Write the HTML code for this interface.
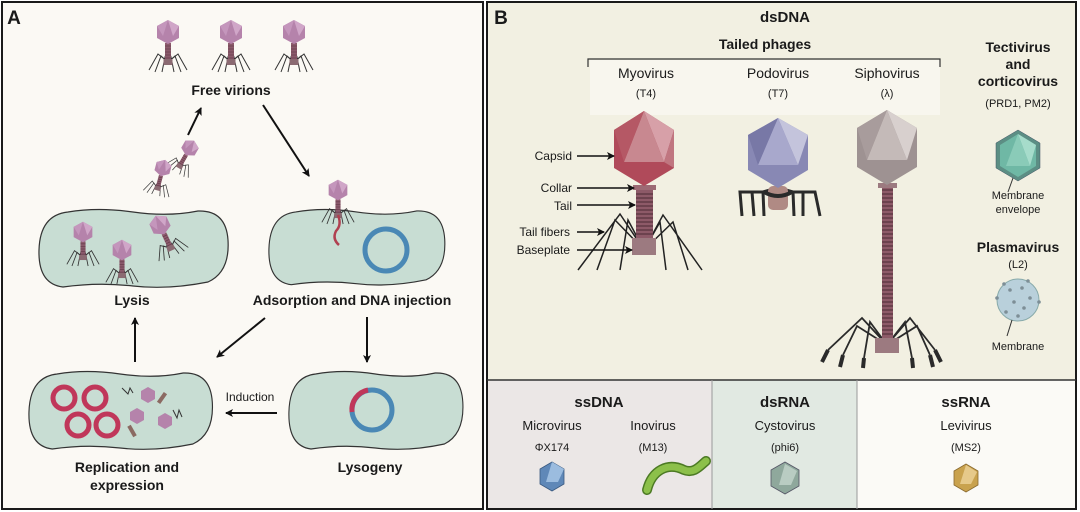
<!DOCTYPE html>
<html><head><meta charset="utf-8"><style>
html,body{margin:0;padding:0;background:#fff}
svg{display:block}
text{font-family:"Liberation Sans",sans-serif;fill:#1a1a1a;text-anchor:middle}
.b{font-weight:bold}
</style></head><body>
<svg width="1080" height="512" viewBox="0 0 1080 512" xmlns="http://www.w3.org/2000/svg">
<defs>
<marker id="ah" markerWidth="8" markerHeight="8" refX="7" refY="4" orient="auto" markerUnits="userSpaceOnUse"><path d="M0,0 L8,4 L0,8 L2,4 z" fill="#111"/></marker>
<g id="ph">
  <g stroke="#333" stroke-width="1" fill="none">
    <path d="M0,30 L-10,22 L-19,38 M0,30 L-7,24 L-13,40 M0,30 L-3,25 L-6,40 M0,30 L10,22 L19,38 M0,30 L7,24 L13,40 M0,30 L3,25 L6,40"/>
  </g>
  <rect x="-3" y="11" width="6" height="18" fill="#8b5a6b"/>
  <path d="M-3,14h6M-3,17h6M-3,20h6M-3,23h6M-3,26h6" stroke="#5a3040" stroke-width=".6"/>
  <rect x="-4.5" y="27" width="9" height="6" fill="#8b6a72"/>
  <polygon points="0,-12 11,-6 11,6 0,12 -11,6 -11,-6" fill="#b583ab"/>
  <polygon points="0,-12 11,-6 5,4" fill="#d0a6c8"/>
  <polygon points="0,-12 -11,-6 -5,4" fill="#c496bc"/>
</g>
<g id="cell">
  <path d="M30,2 Q60,-3 95,2 T160,1 Q188,0 190,30 Q192,62 170,72 Q130,80 95,76 T25,77 Q0,74 1,40 Q2,5 30,2 z" fill="#c8ddd3" stroke="#333" stroke-width="1.2"/>
</g>
</defs>

<!-- Panel A -->
<rect x="2" y="2" width="481" height="507" fill="#fbf9f4" stroke="#1a1a1a" stroke-width="2"/>
<text x="14" y="24" class="b" style="font-size:19px">A</text>
<use href="#ph" transform="translate(168,32)"/>
<use href="#ph" transform="translate(231,32)"/>
<use href="#ph" transform="translate(294,32)"/>
<text x="231" y="95" class="b" style="font-size:14px">Free virions</text>
<line x1="188" y1="135" x2="201" y2="108" stroke="#111" stroke-width="2" marker-end="url(#ah)"/>
<line x1="263" y1="105" x2="309" y2="176" stroke="#111" stroke-width="2" marker-end="url(#ah)"/>
<use href="#ph" transform="translate(190,148) rotate(30) scale(.7)"/>
<use href="#ph" transform="translate(163,168) rotate(15) scale(.7)"/>

<use href="#cell" transform="translate(38,210)"/>
<use href="#ph" transform="translate(83,232) scale(.85)"/>
<use href="#ph" transform="translate(122,250) scale(.85)"/>
<use href="#ph" transform="translate(160,225) rotate(-25) scale(.85)"/>
<text x="132" y="305" class="b" style="font-size:14px">Lysis</text>

<use href="#cell" transform="translate(268,210) scale(.93,.97)"/>
<use href="#ph" transform="translate(338,190) scale(.85)"/>
<path d="M338,215 q4,10 -2,16 q-4,8 3,14" stroke="#b04050" stroke-width="2.5" fill="none"/>
<circle cx="386" cy="250" r="21" fill="none" stroke="#4a88b5" stroke-width="5"/>
<text x="352" y="305" class="b" style="font-size:14px">Adsorption and DNA injection</text>

<line x1="265" y1="318" x2="217" y2="357" stroke="#111" stroke-width="2" marker-end="url(#ah)"/>
<line x1="367" y1="317" x2="367" y2="362" stroke="#111" stroke-width="2" marker-end="url(#ah)"/>
<line x1="135" y1="362" x2="135" y2="318" stroke="#111" stroke-width="2" marker-end="url(#ah)"/>
<line x1="277" y1="413" x2="226" y2="413" stroke="#111" stroke-width="2" marker-end="url(#ah)"/>
<text x="250" y="401" style="font-size:12px">Induction</text>

<use href="#cell" transform="translate(28,372) scale(.97,1)"/>
<g fill="none" stroke="#c0375a" stroke-width="5">
<circle cx="64" cy="398" r="11"/><circle cx="95" cy="398" r="11"/>
<circle cx="78" cy="425" r="11"/><circle cx="107" cy="425" r="11"/>
</g>
<g fill="#b583ab"><polygon points="148,387 155,391 155,399 148,403 141,399 141,391"/><polygon points="137,408 144,412 144,420 137,424 130,420 130,412"/><polygon points="165,413 172,417 172,425 165,429 158,425 158,417"/></g>
<g fill="#8b6a62"><rect x="160" y="392" width="4" height="12" transform="rotate(35 162 398)"/><rect x="130" y="425" width="4" height="12" transform="rotate(-30 132 431)"/></g>
<path d="M122,388 l6,6 l2,-6 l3,5 M173,410 l4,8 l2,-8 l3,7" stroke="#333" fill="none"/>
<text x="127" y="472" class="b" style="font-size:14px">Replication and</text>
<text x="127" y="490" class="b" style="font-size:14px">expression</text>

<use href="#cell" transform="translate(288,372) scale(.92,1)"/>
<circle cx="372" cy="410" r="20" fill="none" stroke="#4a88b5" stroke-width="5"/>
<path d="M352,412 A20,20 0 0 1 368,390" fill="none" stroke="#c0375a" stroke-width="5"/>
<text x="370" y="472" class="b" style="font-size:14px">Lysogeny</text>

<!-- Panel B -->
<rect x="487" y="2" width="589" height="507" fill="#f2f0e2" stroke="#1a1a1a" stroke-width="2"/>
<rect x="590" y="60" width="350" height="55" fill="#f8f6ee"/>
<rect x="488" y="380" width="224" height="128" fill="#ebe7e6"/>
<rect x="712" y="380" width="145" height="128" fill="#e1e9e2"/>
<rect x="857" y="380" width="218" height="128" fill="#fbfaf6"/>
<line x1="487" y1="380" x2="1076" y2="380" stroke="#333" stroke-width="1.5"/>
<line x1="712" y1="380" x2="712" y2="509" stroke="#999" stroke-width="1"/>
<line x1="857" y1="380" x2="857" y2="509" stroke="#999" stroke-width="1"/>

<text x="501" y="24" class="b" style="font-size:19px">B</text>
<text x="785" y="22" class="b" style="font-size:15px">dsDNA</text>
<text x="765" y="49" class="b" style="font-size:14px">Tailed phages</text>
<path d="M588,67 V59 H940 V67" fill="none" stroke="#333" stroke-width="1.2"/>
<text x="646" y="78" style="font-size:14px">Myovirus</text>
<text x="646" y="97" style="font-size:11px">(T4)</text>
<text x="778" y="78" style="font-size:14px">Podovirus</text>
<text x="778" y="97" style="font-size:11px">(T7)</text>
<text x="887" y="78" style="font-size:14px">Siphovirus</text>
<text x="887" y="97" style="font-size:11px">(λ)</text>

<!-- T4 -->
<g stroke="#222" stroke-width="1.5" fill="none">
<path d="M644,250 L620,214 L578,270 M644,250 L615,220 L597,270 M644,250 L628,220 L620,270 M644,250 L663,215 L702,270 M644,250 L673,222 L688,270 M644,250 L660,222 L666,270"/>
</g>
<rect x="636" y="190" width="17" height="50" fill="#8d5a68"/>
<path d="M636,194h17M636,198h17M636,202h17M636,206h17M636,210h17M636,214h17M636,218h17M636,222h17M636,226h17M636,230h17M636,234h17" stroke="#4a2a35" stroke-width="1"/>
<rect x="633" y="185" width="23" height="5" fill="#9c6a74"/>
<rect x="632" y="238" width="24" height="17" fill="#9c7a80"/>
<polygon points="644,111 674,130 674,168 644,186 614,168 614,130" fill="#b04a5a"/>
<polygon points="644,111 674,130 664,162" fill="#d7a0a8"/>
<polygon points="644,111 664,162 624,162" fill="#c88890"/>
<polygon points="644,111 614,130 624,162" fill="#b55865"/>
<polygon points="674,130 674,168 664,162" fill="#c07680"/>
<text x="572" y="160" style="text-anchor:end;font-size:12px">Capsid</text>
<text x="572" y="192" style="text-anchor:end;font-size:12px">Collar</text>
<text x="572" y="210" style="text-anchor:end;font-size:12px">Tail</text>
<text x="570" y="236" style="text-anchor:end;font-size:12px">Tail fibers</text>
<text x="570" y="254" style="text-anchor:end;font-size:12px">Baseplate</text>
<g stroke="#111" stroke-width="1.5" marker-end="url(#ah)">
<line x1="577" y1="156" x2="614" y2="156"/>
<line x1="577" y1="188" x2="634" y2="188"/>
<line x1="577" y1="205" x2="635" y2="205"/>
<line x1="577" y1="232" x2="604" y2="232"/>
<line x1="577" y1="250" x2="632" y2="250"/>
</g>

<!-- T7 -->
<g stroke="#2a2a2a" stroke-width="3" fill="none">
<path d="M770,190 L763,192 L740,192 L742,216 M752,192 L754,216 M763,192 L764,216 M786,190 L793,192 L815,192 L820,216 M803,192 L803,216 M793,192 L794,216"/>
</g>
<rect x="768" y="186" width="20" height="24" rx="5" fill="#b08a84"/>
<path d="M764,192 q14,8 28,0" stroke="#2a2a2a" stroke-width="4" fill="none"/>
<polygon points="778,118 808,135 808,170 778,188 748,170 748,135" fill="#8888b4"/>
<polygon points="778,118 808,135 798,165" fill="#c4c4dc"/>
<polygon points="778,118 798,165 758,165" fill="#a8a8cc"/>
<polygon points="778,118 748,135 758,165" fill="#7878a6"/>

<!-- Lambda -->
<g stroke="#2a2a2a" stroke-width="1.8" fill="none">
<path d="M887,345 L862,318 L828,350 M887,345 L857,326 L843,355 M887,345 L870,322 L864,358 M887,345 L910,318 L935,350 M887,345 L917,326 L930,355 M887,345 L905,322 L912,358"/>
</g>
<g stroke="#2a2a2a" stroke-width="4"><path d="M828,350 l-6,12 M843,355 l-3,12 M864,358 l-1,10 M935,350 l6,12 M930,355 l3,12 M912,358 l1,10"/></g>
<rect x="882" y="186" width="11" height="155" fill="#8d5a68"/>
<path d="M882,190h11M882,194h11M882,198h11M882,202h11M882,206h11M882,210h11M882,214h11M882,218h11M882,222h11M882,226h11M882,230h11M882,234h11M882,238h11M882,242h11M882,246h11M882,250h11M882,254h11M882,258h11M882,262h11M882,266h11M882,270h11M882,274h11M882,278h11M882,282h11M882,286h11M882,290h11M882,294h11M882,298h11M882,302h11M882,306h11M882,310h11M882,314h11M882,318h11M882,322h11M882,326h11M882,330h11M882,334h11" stroke="#4a2a35" stroke-width="1"/>
<rect x="878" y="183" width="19" height="5" fill="#9c7a80"/>
<rect x="875" y="338" width="24" height="15" fill="#9c7a80"/>
<polygon points="887,110 917,128 917,167 887,185 857,167 857,128" fill="#9e9292"/>
<polygon points="887,110 917,128 907,160" fill="#d8d0ce"/>
<polygon points="887,110 907,160 867,160" fill="#c4bab8"/>
<polygon points="887,110 857,128 867,160" fill="#a89c9c"/>

<!-- Tectivirus -->
<text x="1018" y="52" class="b" style="font-size:14px">Tectivirus</text>
<text x="1018" y="69" class="b" style="font-size:14px">and</text>
<text x="1018" y="86" class="b" style="font-size:14px">corticovirus</text>
<text x="1018" y="107" style="font-size:11px">(PRD1, PM2)</text>
<polygon points="1018,130 1040,143 1040,168 1018,181 996,168 996,143" fill="#5c8e84" stroke="#456" stroke-width=".5"/>
<polygon points="1018,134 1036,145 1036,166 1018,177 1000,166 1000,145" fill="#6fb8a5"/>
<polygon points="1018,134 1036,145 1030,166" fill="#a6dccb"/>
<polygon points="1018,134 1030,166 1006,166" fill="#8acbb8"/>
<line x1="1013" y1="178" x2="1008" y2="192" stroke="#333"/>
<text x="1018" y="199" style="font-size:11px">Membrane</text>
<text x="1018" y="213" style="font-size:11px">envelope</text>

<text x="1018" y="252" class="b" style="font-size:14px">Plasmavirus</text>
<text x="1018" y="268" style="font-size:11px">(L2)</text>
<circle cx="1018" cy="300" r="21" fill="#b9d0db" stroke="#8aa" stroke-width="1"/>
<g fill="#7d8e96"><circle cx="1010" cy="290" r="1.8"/><circle cx="1022" cy="288" r="1.8"/><circle cx="1030" cy="298" r="1.8"/><circle cx="1014" cy="302" r="1.8"/><circle cx="1024" cy="308" r="1.8"/><circle cx="1006" cy="312" r="1.8"/><circle cx="1018" cy="316" r="1.8"/><circle cx="997" cy="298" r="1.8"/><circle cx="1039" cy="302" r="1.8"/><circle cx="1028" cy="281" r="1.8"/><circle cx="1004" cy="284" r="1.8"/></g>
<line x1="1012" y1="320" x2="1007" y2="336" stroke="#333"/>
<text x="1018" y="350" style="font-size:11px">Membrane</text>

<!-- Bottom -->
<text x="599" y="407" class="b" style="font-size:15px">ssDNA</text>
<text x="552" y="430" style="font-size:13px">Microvirus</text>
<text x="552" y="451" style="font-size:11px">ΦX174</text>
<text x="653" y="430" style="font-size:13px">Inovirus</text>
<text x="653" y="451" style="font-size:11px">(M13)</text>
<polygon points="552,462 564,469 564,484 552,491 540,484 540,469" fill="#5f88b8" stroke="#3a5a80" stroke-width=".8"/>
<polygon points="552,462 564,469 558,482 546,482" fill="#9bbcdf"/>
<path d="M647,490 C652,470 668,462 684,470 C694,474 700,466 706,461" stroke="#4c7a24" stroke-width="10" fill="none" stroke-linecap="round"/>
<path d="M647,490 C652,470 668,462 684,470 C694,474 700,466 706,461" stroke="#8cc04a" stroke-width="7" fill="none" stroke-linecap="round"/>

<text x="785" y="407" class="b" style="font-size:15px">dsRNA</text>
<text x="785" y="430" style="font-size:13px">Cystovirus</text>
<text x="785" y="451" style="font-size:11px">(phi6)</text>
<polygon points="785,462 799,470 799,486 785,494 771,486 771,470" fill="#8fa89c" stroke="#556" stroke-width=".8"/>
<polygon points="785,464 797,471 791,485 779,485" fill="#b9ccc2"/>

<text x="966" y="407" class="b" style="font-size:15px">ssRNA</text>
<text x="966" y="430" style="font-size:13px">Levivirus</text>
<text x="966" y="451" style="font-size:11px">(MS2)</text>
<polygon points="966,464 978,471 978,485 966,492 954,485 954,471" fill="#c9a24e" stroke="#8a6a30" stroke-width=".8"/>
<polygon points="966,465 977,472 971,484 960,484" fill="#e6c98a"/>
</svg>
</body></html>
